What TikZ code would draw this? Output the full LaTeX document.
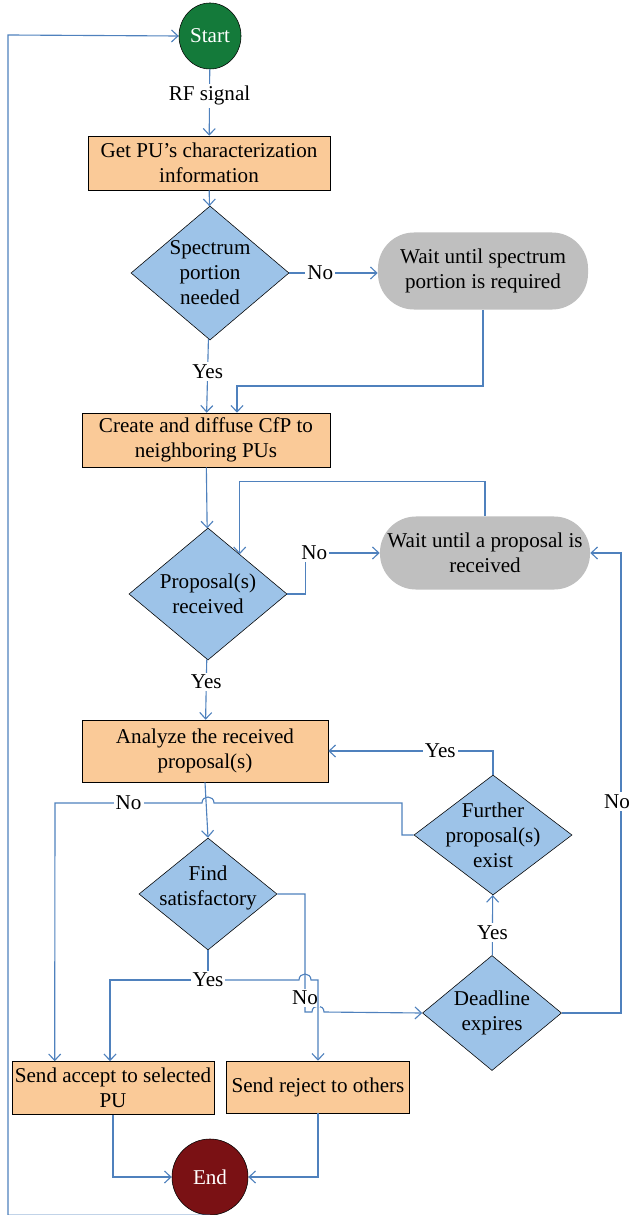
\documentclass[tikz,border=0pt]{standalone}
\usepackage{fontspec}
\setmainfont{Liberation Serif}
\usetikzlibrary{shapes.geometric, arrows.meta, calc}

\definecolor{linecol}{RGB}{79,129,189}
\definecolor{procfill}{RGB}{250,202,152}
\definecolor{decfill}{RGB}{157,195,232}
\definecolor{waitfill}{RGB}{191,191,191}
\definecolor{startfill}{RGB}{20,122,58}
\definecolor{endfill}{RGB}{122,17,20}

\begin{document}
\begin{tikzpicture}[
  x=0.025cm, y=-0.025cm,
  font=\fontsize{15}{17.7}\selectfont,
  proc/.style={draw, fill=procfill, align=center, inner sep=2pt},
  waitbox/.style={fill=waitfill, align=center, rounded corners=0.9cm, minimum width=5.25cm},
  dec/.style={diamond, draw, fill=decfill, inner sep=0pt},
  term/.style={ellipse, draw, text=white, inner sep=0pt},
  arr/.style={-{Straight Barb[length=1.6mm, width=3mm]}, linecol, line width=0.8pt},
  lbl/.style={fill=white, text=black, inner sep=1.5pt}
]
  \useasboundingbox (0,0) rectangle (630,1215);

  % Start / End
  \node[term, fill=startfill, minimum width=1.55cm, minimum height=1.65cm] (start) at (210,36) {Start};
  \node[term, fill=endfill, minimum width=1.9cm, minimum height=1.9cm] (stop) at (210,1177) {End};

  % Procesi
  \node[proc, minimum width=6.05cm, minimum height=1.35cm] (getpu) at (209,163)
    {Get PU's characterization\\information};
  \node[proc, minimum width=6.2cm, minimum height=1.35cm] (cfp) at (206,440)
    {Create and diffuse CfP to\\neighboring PUs};
  \node[proc, minimum width=6.15cm, minimum height=1.55cm] (analyze) at (205,751)
    {Analyze the received\\proposal(s)};
  \node[proc, minimum width=5.05cm, minimum height=1.325cm] (accept) at (113,1088)
    {Send accept to selected\\PU};
  \node[proc, minimum width=4.575cm, minimum height=1.3cm] (reject) at (318,1087)
    {Send reject to others};

  % Cekanje
  \node[waitbox, minimum height=1.925cm] (waitspec) at (483,271)
    {Wait until spectrum\\portion is required};
  \node[waitbox, minimum height=1.825cm] (waitprop) at (485,553)
    {Wait until a proposal is\\received};

  % Odluke
  \node[dec, minimum width=3.95cm, minimum height=3.35cm,
    label={[align=center]center:{Spectrum\\portion\\needed}}] (needed) at (210,273) {};
  \node[dec, minimum width=3.95cm, minimum height=3.3cm,
    label={[align=center]center:{Proposal(s)\\received}}] (recv) at (208,594) {};
  \node[dec, minimum width=3.45cm, minimum height=2.8cm,
    label={[align=center, yshift=0.15cm]center:{Find\\satisfactory}}] (satis) at (208,894) {};
  \node[dec, minimum width=3.95cm, minimum height=3cm,
    label={[align=center]center:{Further\\proposal(s)\\exist}}] (further) at (493,835) {};
  \node[dec, minimum width=3.475cm, minimum height=2.875cm,
    label={[align=center]center:{Deadline\\expires}}] (deadline) at (492,1013) {};

  % Poveznice
  \draw[arr] (start) -- node[lbl, pos=0.4] {RF signal} (getpu);
  \draw[arr] (getpu) -- (needed);
  \draw[arr] (needed.east) -- node[lbl, pos=0.35] {No} (needed.east -| waitspec.west);
  \draw[arr] (needed) -- node[lbl, pos=0.44] {Yes} (cfp);
  \draw[arr] (waitspec.south) -- (483,386) -| ($(cfp.north)+(31,0)$);
  \draw[arr] (cfp) -- (recv);
  \draw[arr] (recv.east) -- ++(18,0) |- node[lbl, pos=0.56] {No} (waitprop.west);
  \draw[arr] (waitprop.north) -- ++(0,-35) -| ($(recv.north)!0.4!(recv.east)$);
  \draw[arr] (recv) -- node[lbl, pos=0.37] {Yes} (analyze);
  \draw[arr] (analyze.south) -- (satis.north);
  \draw[arr] (further.north) |- node[lbl, pos=0.66] {Yes} (analyze.east);
  \draw[arr] (further.west) -- (402,835) -- (402,803) -- (214,803)
    .. controls (214,795) and (202,795) .. (202,803)
    -- node[lbl] {No} (55,803) -- ($(accept.north west)+(43,0)$);
  \draw[arr] (deadline) -- node[lbl, pos=0.38] {Yes} (further);
  \draw[arr] (deadline.east) -- (621,1013)
    -- node[lbl, pos=0.46, xshift=-0.1cm] {No} (621,553) -- (waitprop.east);

  % Find satisfactory: No / Yes
  \draw[arr] (satis.east) -- (305,894) -- node[lbl, pos=0.88] {No} (305,1012) -- (312,1012)
    .. controls (312,1004) and (324,1004) .. (324,1012) -- (deadline.west);
  \coordinate (yesj) at (208,980);
  \draw[arr] (satis.south) -- (yesj) -| ($(accept.north)+(-3,0)$);
  \draw[arr] (yesj) -- (299,980) .. controls (299,972) and (311,972) .. (311,980)
    -- (318,980) -- (reject.north);
  \node[lbl] (yeslbl) at (yesj) {Yes};

  % Kraj
  \draw[arr] (accept.south) |- (stop.west);
  \draw[arr] (reject.south) |- (stop.east);
  \draw[arr] (stop.south) -| (8,35) -- (start.west);
\end{tikzpicture}
\end{document}
